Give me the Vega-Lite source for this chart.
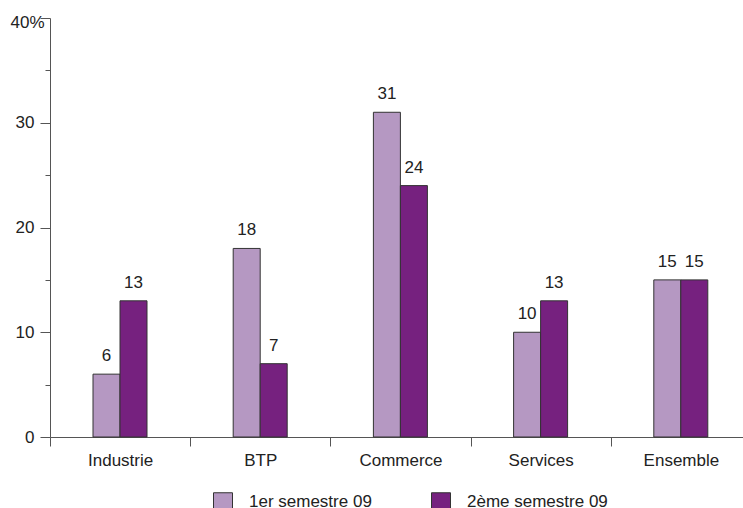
{
  "$schema": "https://vega.github.io/schema/vega-lite/v6.json",
  "width": 693,
  "height": 419,
  "autosize": {"type": "none"},
  "padding": {"left": 50, "top": 18, "right": 0, "bottom": 71},
  "config": {"view": {"stroke": null}, "font": "Liberation Sans"},
  "data": {
    "values": [
      {"secteur": "Industrie", "periode": "1er semestre 09", "valeur": 6},
      {"secteur": "Industrie", "periode": "2ème semestre 09", "valeur": 13},
      {"secteur": "BTP", "periode": "1er semestre 09", "valeur": 18},
      {"secteur": "BTP", "periode": "2ème semestre 09", "valeur": 7},
      {"secteur": "Commerce", "periode": "1er semestre 09", "valeur": 31},
      {"secteur": "Commerce", "periode": "2ème semestre 09", "valeur": 24},
      {"secteur": "Services", "periode": "1er semestre 09", "valeur": 10},
      {"secteur": "Services", "periode": "2ème semestre 09", "valeur": 13},
      {"secteur": "Ensemble", "periode": "1er semestre 09", "valeur": 15},
      {"secteur": "Ensemble", "periode": "2ème semestre 09", "valeur": 15}
    ]
  },
  "encoding": {
    "x": {
      "field": "secteur",
      "type": "nominal",
      "sort": ["Industrie", "BTP", "Commerce", "Services", "Ensemble"],
      "scale": {"range": [0, 701], "paddingInner": 0, "paddingOuter": 0},
      "axis": {
        "title": null,
        "labelAngle": 0,
        "tickBand": "extent",
        "tickSize": 9,
        "tickColor": "#555",
        "domainColor": "#555",
        "labelFontSize": 17,
        "labelColor": "#222",
        "labelPadding": 6
      }
    },
    "xOffset": {
      "field": "periode",
      "sort": ["1er semestre 09", "2ème semestre 09"],
      "scale": {"range": [43, 97], "paddingInner": 0, "paddingOuter": 0}
    },
    "y": {
      "field": "valeur",
      "type": "quantitative",
      "scale": {"domain": [0, 40]},
      "axis": {
        "title": null,
        "grid": false,
        "values": [0, 5, 10, 15, 20, 25, 30, 35, 40],
        "labelExpr": "datum.value % 10 != 0 ? '' : (datum.value == 40 ? '40%' : datum.label)",
        "tickSize": {"condition": {"test": "datum.value % 10 == 0", "value": 10}, "value": 5},
        "labelPadding": {"condition": {"test": "datum.value == 40", "value": -4}, "value": 6},
        "labelOffset": {"condition": {"test": "datum.value == 40", "value": 4}, "value": 0},
        "tickColor": "#555",
        "domainColor": "#555",
        "labelFontSize": 17,
        "labelColor": "#222"
      }
    }
  },
  "layer": [
    {
      "mark": {"type": "bar", "stroke": "#333", "strokeWidth": 1},
      "encoding": {
        "color": {
          "field": "periode",
          "type": "nominal",
          "sort": ["1er semestre 09", "2ème semestre 09"],
          "scale": {"range": ["#b598c2", "#76217f"]},
          "legend": {
            "title": null,
            "orient": "none",
            "legendX": 163,
            "legendY": 474,
            "direction": "horizontal",
            "padding": 0,
            "symbolType": "square",
            "symbolSize": 361,
            "symbolStrokeColor": "#333",
            "symbolStrokeWidth": 1,
            "labelFontSize": 17,
            "labelColor": "#222",
            "labelBaseline": "middle",
            "labelOffset": 16,
            "columnPadding": 57
          }
        }
      }
    },
    {
      "mark": {"type": "text", "dy": -13, "fontSize": 17, "color": "#222", "baseline": "alphabetic"},
      "encoding": {"text": {"field": "valeur", "type": "quantitative"}}
    }
  ]
}
